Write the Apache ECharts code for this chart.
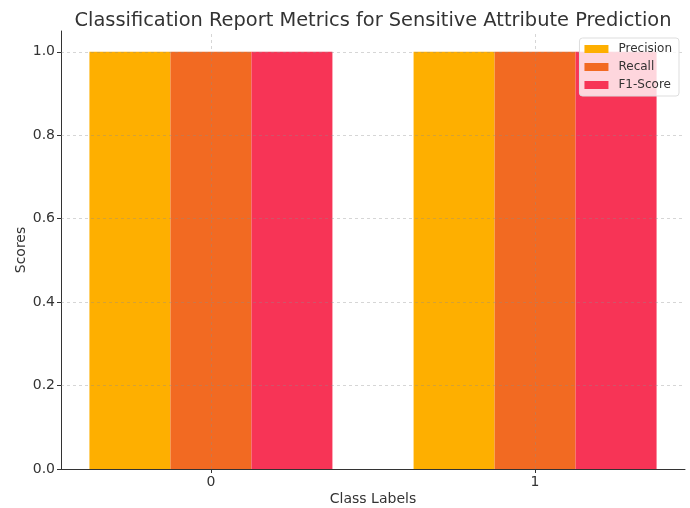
<!DOCTYPE html>
<html><head><meta charset="utf-8">
<script src="https://cdn.jsdelivr.net/npm/echarts@6/dist/echarts.min.js"></script>
<style>html,body{margin:0;padding:0;background:#fff}#c{width:690px;height:508px}</style>
</head><body><div id="c"></div>
<script>
const classes = [0, 1];
const metricNames = ['Precision', 'Recall', 'F1-Score'];
const precision = [1.0, 1.0];
const recall = [1.0, 1.0];
const f1 = [1.0, 1.0];
const yTicks = [0, 0.2, 0.4, 0.6, 0.8, 1.0];
const colors = ['#FEAF00', '#F26A22', '#F73456'];
const values = [precision, recall, f1];

const chart = echarts.init(document.getElementById('c'), null, {renderer: 'canvas'});
const font = 'DejaVu Sans';
const gridStyle = {color: 'rgba(140,140,140,0.45)', width: 0.8, type: [3, 3]};
const gridMarks = {
  silent: true, symbol: ['none', 'none'], label: {show: false}, lineStyle: gridStyle, z: 10,
  emphasis: {disabled: true},
  data: yTicks.filter(v => v > 0).map(v => ({yAxis: v})).concat(classes.map(c => ({xAxis: c})))
};
const barSeries = metricNames.map((n, i) => ({
  name: n, type: 'bar', barWidth: 81, barGap: '0%', itemStyle: {color: colors[i]},
  data: classes.map((c, j) => [c, values[i][j]]),
  markLine: i === 1 ? gridMarks : undefined
}));
chart.setOption({
  animation: false,
  title: {text: 'Classification Report Metrics for Sensitive Attribute Prediction', left: 368, top: 6, textAlign: 'center',
    textStyle: {fontFamily: font, fontSize: 19.4, fontWeight: 'normal', color: '#333'}},
  grid: {left: 61, right: 5, top: 31, bottom: 39, outerBoundsMode: 'none', containLabel: false},
  legend: {orient: 'vertical', right: 11, top: 38, itemWidth: 24, itemHeight: 8, itemGap: 6, icon: 'rect', z: 20,
    backgroundColor: 'rgba(255,255,255,0.8)', borderColor: '#ddd', borderWidth: 1, borderRadius: 3, padding: [5, 7, 5, 5],
    textStyle: {fontFamily: font, fontSize: 12, color: '#333', padding: [0, 0, 0, 5]}, data: metricNames},
  xAxis: {type: 'value', min: -0.4625, max: 1.4625, name: 'Class Labels', nameLocation: 'middle', nameGap: 23, z: 6,
    nameMoveOverlap: false,
    nameTextStyle: {fontFamily: font, fontSize: 14, color: '#333'},
    axisLine: {show: true, onZero: false, lineStyle: {color: '#333'}},
    axisTick: {show: true, length: 4, customValues: classes, lineStyle: {color: '#333'}},
    axisLabel: {customValues: classes, fontFamily: font, fontSize: 14, color: '#333', margin: 6, formatter: v => String(v)},
    splitLine: {show: false}},
  yAxis: {type: 'value', min: 0, max: 1.05, interval: 0.2, name: 'Scores', nameLocation: 'middle', nameGap: 33, z: 6,
    nameMoveOverlap: false,
    nameTextStyle: {fontFamily: font, fontSize: 14, color: '#333'},
    axisLine: {show: true, onZero: false, lineStyle: {color: '#333'}},
    axisTick: {show: true, length: 4, customValues: yTicks, lineStyle: {color: '#333'}},
    axisLabel: {customValues: yTicks, fontFamily: font, fontSize: 14, color: '#333', margin: 6, formatter: v => v.toFixed(1)},
    splitLine: {show: false}},
  series: barSeries
});
</script></body></html>
